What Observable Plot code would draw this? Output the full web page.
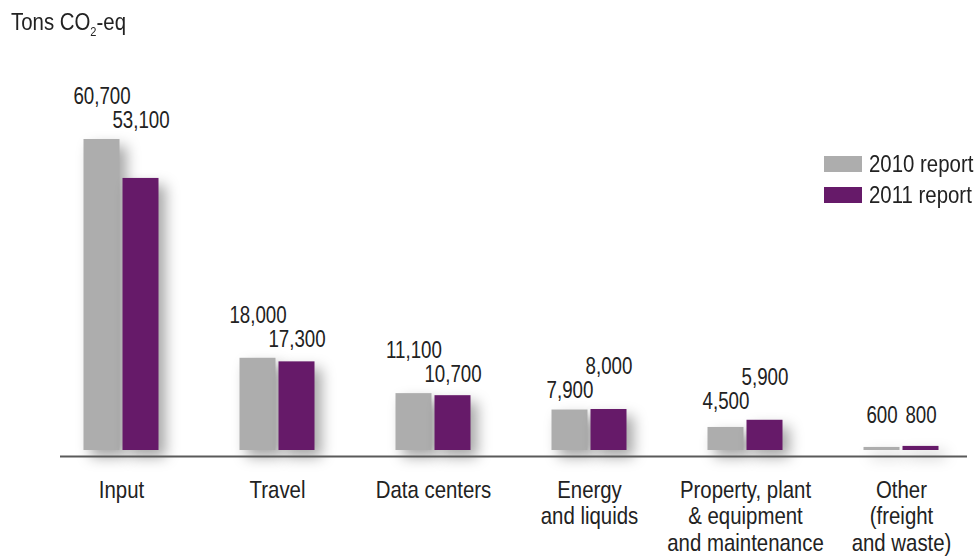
<!DOCTYPE html>
<html>
<head>
<meta charset="utf-8">
<script src="https://cdn.jsdelivr.net/npm/d3@7"></script>
<script src="https://cdn.jsdelivr.net/npm/@observablehq/plot@0.6"></script>
<style>
  body { margin: 0; background: #fff; }
  #wrap { position: relative; width: 979px; height: 556px; font-family: "Liberation Sans", Arial, sans-serif; color: #222; overflow: hidden; }
  #title { position: absolute; left: 11px; top: 10px; font-size: 24px; line-height: 24px; white-space: nowrap; transform: scaleX(0.85); transform-origin: 0 0; }
  #title .sub { font-size: 13px; position: relative; top: 6px; }
  .lrow { position: absolute; left: 824px; height: 24px; line-height: 24px; font-size: 24px; white-space: nowrap; }
  .lrow .sw { position: absolute; left: 0; top: 4px; width: 38px; height: 16px; }
  .lrow .lt { position: absolute; left: 45px; top: 0; transform: scaleX(0.85); transform-origin: 0 0; }
  svg { display: block; }
</style>
</head>
<body>
<div id="wrap">
  <div id="chart"></div>
  <div id="title">Tons CO<span class="sub">2</span>-eq</div>
  <div id="legend"></div>
</div>
<script>
const categories = ["Input", "Travel", "Data centers", "Energy\nand liquids", "Property, plant\n& equipment\nand maintenance", "Other\n(freight\nand waste)"];
const series = ["2010 report", "2011 report"];
const values2010 = [60700, 18000, 11100, 7900, 4500, 600];
const values2011 = [53100, 17300, 10700, 8000, 5900, 800];
const colors = ["#adadad", "#661a69"];

const fmt = d3.format(",");
const rows = [];
categories.forEach((c, i) => {
  const vals = [values2010[i], values2011[i]];
  const top = Math.max(...vals);
  const stagger = vals.some(v => fmt(v).length > 3);
  vals.forEach((v, s) => {
    let role = "flat";
    if (stagger) role = (v === top && vals[0] !== vals[1]) ? "high" : "low";
    rows.push({category: c, series: series[s], s, value: v, top, role, label: fmt(v)});
  });
});

const offs = [-19.5, 19.5];
const roleDy = {high: -43, low: -19, flat: -31};
const marks = [];
series.forEach((name, s) => {
  marks.push(Plot.barY(rows.filter(d => d.s === s), {x: "category", y: "value", fill: colors[s], dx: offs[s]}));
});
marks.push(Plot.ruleY([0], {dy: 6, stroke: "#5a5a5a", strokeWidth: 2}));
series.forEach((name, s) => {
  for (const role of ["high", "low", "flat"]) {
    marks.push(Plot.text(rows.filter(d => d.s === s && d.role === role), {
      x: "category", y: "top", text: "label", dx: offs[s], dy: roleDy[role], fill: "#222"
    }));
  }
});
marks.push(Plot.text(categories, {x: d => d, text: d => d, frameAnchor: "bottom", lineAnchor: "top", dy: 28, lineHeight: 1.12, fill: "#222"}));

const plot = Plot.plot({
  width: 979,
  height: 556,
  marginTop: 139,
  marginBottom: 106,
  marginLeft: 60,
  marginRight: 12,
  x: {domain: categories, range: [42, 980], paddingInner: 0.77, paddingOuter: 0.385, axis: null},
  y: {axis: null},
  style: {fontFamily: '"Liberation Sans", Arial, sans-serif', fontSize: "24px", background: "#fff", overflow: "visible"},
  marks
});
d3.select(plot).selectAll('g[aria-label="bar"]').style("filter", "drop-shadow(7px 7px 7px rgba(0,0,0,0.35))");

// horizontally condense text to mimic a condensed typeface
function condense(sel, k) {
  sel.each(function () {
    const t = this.getAttribute("transform");
    if (t) this.setAttribute("transform", t + ` scale(${k},1)`);
    else {
      const x = +this.getAttribute("x") || 0, y = +this.getAttribute("y") || 0;
      this.removeAttribute("x"); this.removeAttribute("y");
      this.setAttribute("transform", `translate(${x},${y}) scale(${k},1)`);
    }
  });
}
const textGroups = d3.select(plot).selectAll('g[aria-label="text"]').nodes();
textGroups.forEach((g, i) => {
  const isCat = i === textGroups.length - 1;
  condense(d3.select(g).selectAll("text"), isCat ? 0.85 : 0.78);
});
document.getElementById("chart").appendChild(plot);

const legend = document.getElementById("legend");
series.forEach((name, s) => {
  const row = document.createElement("div");
  row.className = "lrow";
  row.style.top = (152 + 31 * s) + "px";
  row.innerHTML = `<span class="sw" style="background:${colors[s]}"></span><span class="lt">${name}</span>`;
  legend.appendChild(row);
});
</script>
</body>
</html>
